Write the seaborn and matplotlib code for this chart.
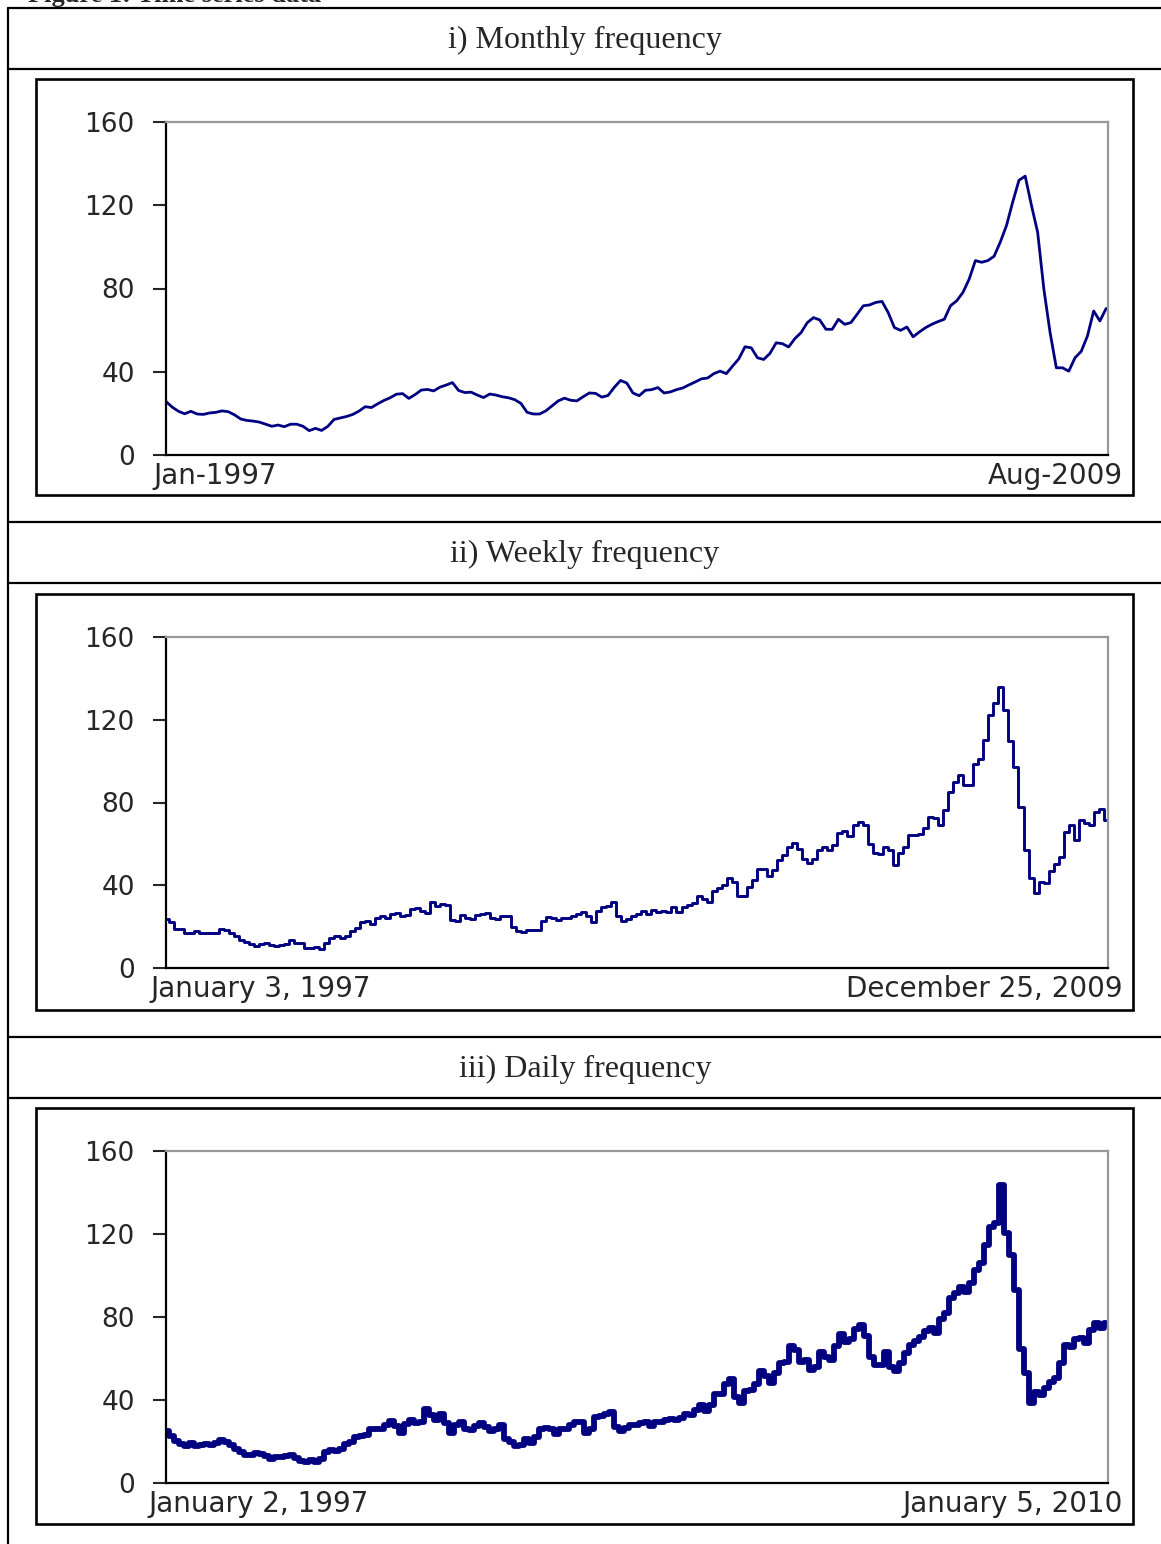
import numpy as np
import seaborn as sns
import matplotlib.pyplot as plt
from matplotlib.lines import Line2D
from matplotlib.patches import Rectangle

W, H = 1161, 1544

# monthly values, Jan-1997 .. Aug-2009
monthly = [25.7, 23, 21, 19.8, 21, 19.7, 19.5, 20.2, 20.5, 21.2,
           20.8, 19.3, 17.3, 16.6, 16.3, 15.8, 14.8, 13.8, 14.4, 13.6,
           14.8, 14.8, 13.8, 11.7, 12.8, 11.8, 13.8, 17.1, 17.8, 18.5,
           19.5, 21.1, 23.2, 22.8, 24.6, 26.2, 27.5, 29.2, 29.5, 27.2,
           29, 31.2, 31.5, 30.8, 32.6, 33.6, 34.8, 31, 30, 30.2,
           28.8, 27.6, 29.3, 28.8, 28, 27.5, 26.6, 24.8, 20.5, 19.7,
           19.7, 21.2, 23.6, 26, 27.3, 26.3, 26, 28, 29.8, 29.6,
           27.8, 28.6, 32.5, 35.8, 34.6, 29.8, 28.5, 31.1, 31.4, 32.4,
           29.8, 30.3, 31.4, 32.2, 33.7, 35.1, 36.6, 37, 39.1, 40.3,
           39.1, 42.7, 46.2, 52, 51.5, 46.7, 45.9, 48.8, 53.9, 53.5,
           51.9, 55.9, 58.8, 63.6, 66, 64.9, 60.4, 60.4, 65.2, 62.8,
           63.6, 67.6, 71.7, 72.1, 73.3, 73.8, 68.4, 61.2, 59.9, 61.5,
           56.8, 59.1, 61.2, 62.8, 64.1, 65.2, 71.7, 74.1, 78.1, 84.5,
           93.4, 92.6, 93.4, 95.5, 102.3, 110.3, 121.6, 132, 134, 120,
           107, 79.7, 58.8, 41.9, 41.9, 40.3, 46.7, 49.8, 57.2, 69.2,
           64.4, 70.4]

# weekly series (Jan 3, 1997 .. Dec 25, 2009)
weekly = [23.9, 22, 19, 18.7, 16.7, 17, 17.9, 16.7, 16.7, 17,
          17, 18.7, 18.4, 17, 15.4, 13.5, 12.5, 11.4, 10.6, 11.4,
          11.9, 10.9, 10.6, 11.1, 11.4, 13.5, 12.2, 11.9, 9.8, 9.6,
          10.2, 9.4, 12, 14.5, 15.4, 14.5, 15.4, 17.9, 19.5, 22.3,
          22.8, 21.1, 24.4, 24.9, 24.4, 26, 26.5, 25, 25.5, 28.7,
          29, 27.5, 26.5, 31.7, 30.1, 30.7, 30.4, 23, 22.5, 25.5,
          24.4, 23.6, 25.5, 26, 26.5, 24.2, 23.8, 24.9, 24.9, 20,
          18.1, 17.3, 18.5, 18.3, 18.6, 22.8, 24.7, 24.4, 23.3, 24.2,
          24.2, 25, 26.3, 27.2, 25, 22.3, 27.6, 29.3, 29.8, 31.7,
          25, 22.8, 23.5, 25.2, 26,
          27.5, 26, 28, 27.2, 27.7, 27.2, 29.3, 27.2, 29.6, 30.4,
          31.6, 34.8, 33.2, 32, 37, 38.8, 40, 43.6, 41.5, 35,
          35, 39, 42.5, 48, 47.8, 44.5, 47.3, 52.2, 54.6, 58.6,
          60.5, 57.5, 52.5, 50.8, 52.5, 57, 58.5, 56.8, 59.5, 65.2,
          66, 64, 69.1, 70.7, 69, 60, 55.4, 55, 58.5, 57,
          50, 55.5, 58.6, 64.3, 64.3, 64.6, 67.8, 73.1, 72.3, 69,
          76.3, 85.2, 90, 93.2, 88.4, 88.4, 98.5, 100.8, 110.1, 122.5,
          128.2, 135.9, 124.6, 109.7, 97.3, 78, 57, 43.3, 36.1, 41.7,
          40.9, 47, 50.3, 53.8, 65.5, 69.1, 61.8, 71.5, 70, 69,
          75.2, 76.8, 71.5]

# daily series (Jan 2, 1997 .. Jan 5, 2010)
daily = [25.1, 22.6, 20.2, 19, 18, 19.3, 17.7, 18.5, 18.9, 18.5,
         19.3, 20.5, 19.6, 18.5, 16.4, 14.8, 13.7, 13.4, 14.3, 14.1,
         13.2, 11.8, 12.4, 12.4, 12.9, 13.4, 11.9, 10.4, 10, 11.1,
         10.2, 11.5, 15, 15.8, 15.5, 16.6, 18.8, 20, 22, 22.8,
         23, 25.8, 26, 26, 27.8, 30, 27.5, 24, 28.3, 30.5,
         29, 29.6, 35.8, 32.8, 30.5, 33.3, 29, 24.3, 28, 29.4,
         25.9, 25.5, 27.6, 28.9, 26.8, 24.9, 25.8, 27.8, 21.3, 19.8,
         17.9, 18.3, 21, 19.3, 22.3, 25.9, 26.7, 25.9, 23.4, 25.9,
         25.9, 27.9, 29.2, 29.2, 24.3, 25.9, 31.6, 32.1, 33.3, 34.4,
         27, 25, 26.5, 27.9, 27.9,
         28.8, 29.6, 27.5, 29.3, 29.2, 30.2, 31, 30.5, 31.4, 33.1,
         32.8, 35, 37.6, 34.5, 37.5, 43, 43, 47.5, 49.9, 41.6,
         38.4, 44.4, 44.6, 47.5, 54, 51.5, 48, 53, 57.7, 58.2,
         65.8, 64.1, 58.5, 59.3, 54.5, 56.1, 63.3, 60.9, 59.5, 66,
         71.9, 67.9, 69.5, 74, 76, 71, 60.9, 56.9, 56.9, 63.3,
         56.1, 54, 57.7, 62.8, 66.3, 68.4, 70.3, 73.3, 74.8, 72.2,
         78.8, 81.8, 89, 91.5, 94.4, 92, 96.3, 102.7, 105.9, 114.8,
         123.6, 125.2, 143.7, 120.4, 110, 93, 64.7, 52.9, 38.4, 43.8,
         42.5, 45.8, 48.9, 50.8, 58, 66.3, 65.7, 69.5, 70, 67.4,
         73.5, 77, 74.8, 77]

titles = ["i) Monthly frequency", "ii) Weekly frequency", "iii) Daily frequency"]
start_labels = ["Jan-1997", "January 3, 1997", "January 2, 1997"]
end_labels = ["Aug-2009", "December 25, 2009", "January 5, 2010"]
yticks = [0, 40, 80, 120, 160]

sns.set_style("white")
plt.rcParams['font.family'] = ['DejaVu Sans']

fig = plt.figure(figsize=(W / 100, H / 100), dpi=100)


def fx(x):
    return x / W


def fy(y):
    return 1 - y / H


def line(x0, y0, x1, y1, lw=1.6):
    fig.add_artist(Line2D([fx(x0), fx(x1)], [fy(y0), fy(y1)], color='black',
                          lw=lw, transform=fig.transFigure))


# the table around the panels
line(8, 8, W, 8)
line(8, 8, 8, H)
for yy in [69, 522, 583, 1037, 1098]:
    line(8, yy, W, yy)

# caption of the page, mostly cut off at the top like in the scan
fig.text(fx(28), fy(2), "Figure 1: Time series data", fontfamily='Liberation Serif',
         fontweight='bold', fontsize=19, va='baseline')

# (title centre, frame top, frame bottom, axes top, axes bottom, start label x)
layout = [(39, 79, 495, 122, 455, 153),
          (553, 594, 1010, 637, 968, 150),
          (1068, 1108, 1524, 1151, 1483, 148)]
series = [monthly, weekly, daily]
widths = [2.0, 2.1, 4.2]
styles = ['default', 'steps-mid', 'steps-mid']

for i, (tc, ft, fb, at, ab, sx) in enumerate(layout):
    fig.text(fx(585), fy(tc + 1), titles[i], fontfamily='Liberation Serif',
             fontsize=23, ha='center', va='center')
    fig.add_artist(Rectangle((fx(36), fy(fb)), fx(1133) - fx(36), (fb - ft) / H,
                             fill=False, lw=1.9, ec='black', transform=fig.transFigure))

    ax = fig.add_axes([fx(166), fy(ab), fx(1108) - fx(166), (ab - at) / H])
    vals = series[i]
    x = np.arange(len(vals))
    sns.lineplot(x=x, y=vals, ax=ax, color='#000080', lw=widths[i],
                 drawstyle=styles[i])
    ax.set_xlim(0, len(vals) - 0.7)
    ax.set_ylim(0, 160)
    ax.set_yticks(yticks)
    ax.set_xticks([])
    ax.set_xlabel('')
    ax.set_ylabel('')
    ax.tick_params(axis='y', direction='out', length=9.5, width=1.5, pad=13,
                   labelsize=19, left=True)
    for s in ['top', 'right']:
        ax.spines[s].set_color('#999999')
        ax.spines[s].set_linewidth(1.6)
    for s in ['left', 'bottom']:
        ax.spines[s].set_color('black')
        ax.spines[s].set_linewidth(1.6)

    fig.text(fx(sx), fy(ab + 21), start_labels[i], fontsize=20, ha='left', va='center')
    fig.text(fx(1123), fy(ab + 21), end_labels[i], fontsize=20, ha='right', va='center')

fig.savefig('out.png', dpi=100)
